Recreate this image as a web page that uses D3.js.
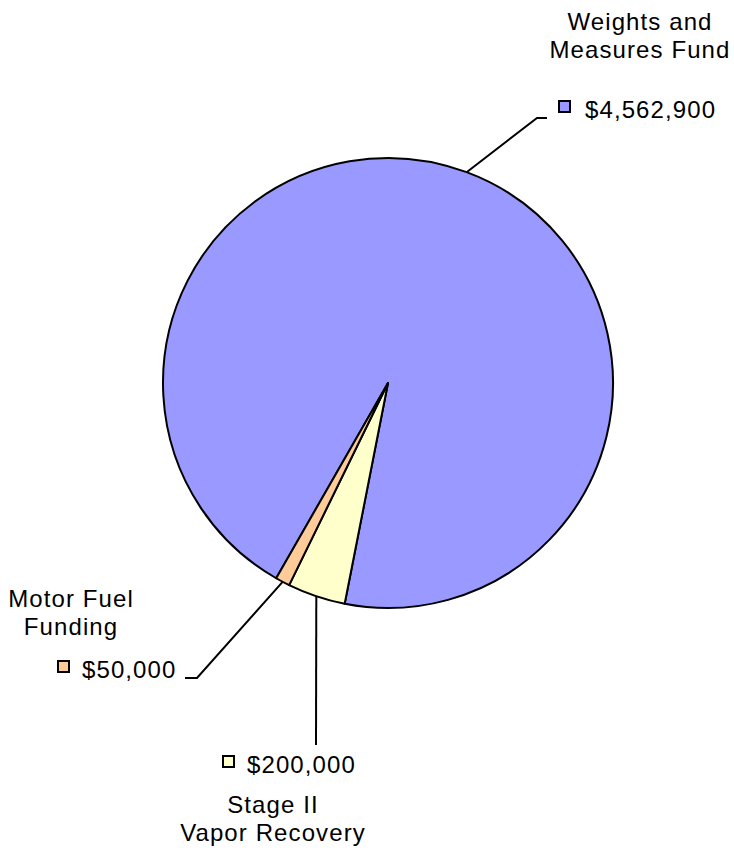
<!DOCTYPE html>
<html>
<head>
<meta charset="utf-8">
<script src="https://cdn.jsdelivr.net/npm/d3@7"></script>
<style>
  body { margin: 0; background: #fff; }
  text { font-family: "Liberation Sans", Arial, sans-serif; fill: #000; }
</style>
</head>
<body>
<div id="chart"></div>
<script>
// data
var categories = ["Weights and Measures Fund", "Stage II Vapor Recovery", "Motor Fuel Funding"];
var amounts = [4562900, 200000, 50000];
var valueLabels = ["$4,562,900", "$200,000", "$50,000"];
var nameLines = [["Weights and", "Measures Fund"], ["Stage II", "Vapor Recovery"], ["Motor Fuel", "Funding"]];
var colors = ["#9999ff", "#ffffcc", "#ffcc99"];

var svgWidth = 734;
var svgHeight = 854;
var cx = 388, cy = 383, radius = 225;

var svg = d3.select("#chart")
  .append("svg")
  .attr("width", svgWidth)
  .attr("height", svgHeight);

var data = categories.map(function(c, i) {
  return { name: c, value: amounts[i], label: valueLabels[i], lines: nameLines[i], color: colors[i] };
});

var start = 209.8 * Math.PI / 180;
var pie = d3.pie()
  .sort(null)
  .value(d => d.value)
  .startAngle(start)
  .endAngle(start + 2 * Math.PI);

var arc = d3.arc().innerRadius(0).outerRadius(radius);

var pieGroup = svg.append("g")
  .attr("transform", `translate(${cx}, ${cy})`);

var arcs = pie(data);

pieGroup.selectAll("path")
  .data(arcs)
  .enter()
  .append("path")
  .attr("d", arc)
  .attr("fill", d => d.data.color)
  .attr("stroke", "#000")
  .attr("stroke-width", 2)
  .attr("stroke-linejoin", "round");

// label layout (elbow, square and text positions)
var layout = [
  { elbow: [537, 118], end: [547, 118], sq: [559, 101], val: [585, 118],
    name: [640, 30] },
  { elbow: null, end: [316, 745], sq: [223, 756], val: [247, 773],
    name: [273, 813] },
  { elbow: [197, 678], end: [185, 678], sq: [58, 661], val: [82, 678],
    name: [71, 607] }
];

arcs.forEach(function(a, i) {
  var mid = (a.startAngle + a.endAngle) / 2;
  var p0 = [cx + radius * Math.sin(mid), cy - radius * Math.cos(mid)];
  var L = layout[i];
  var pts = [p0];
  if (L.elbow) pts.push(L.elbow);
  pts.push(L.end);

  svg.append("path")
    .attr("d", d3.line()(pts))
    .attr("fill", "none")
    .attr("stroke", "#000")
    .attr("stroke-width", 2);

  svg.append("rect")
    .attr("x", L.sq[0])
    .attr("y", L.sq[1])
    .attr("width", 11)
    .attr("height", 11)
    .attr("fill", a.data.color)
    .attr("stroke", "#000")
    .attr("stroke-width", 2);

  svg.append("text")
    .attr("x", L.val[0])
    .attr("y", L.val[1])
    .style("font-size", "24px")
    .style("letter-spacing", "1.1px")
    .text(a.data.label);

  a.data.lines.forEach(function(line, j) {
    svg.append("text")
      .attr("x", L.name[0])
      .attr("y", L.name[1] + j * 28)
      .attr("text-anchor", "middle")
      .style("font-size", "24px")
      .style("letter-spacing", "1.1px")
      .text(line);
  });
});
</script>
</body>
</html>
